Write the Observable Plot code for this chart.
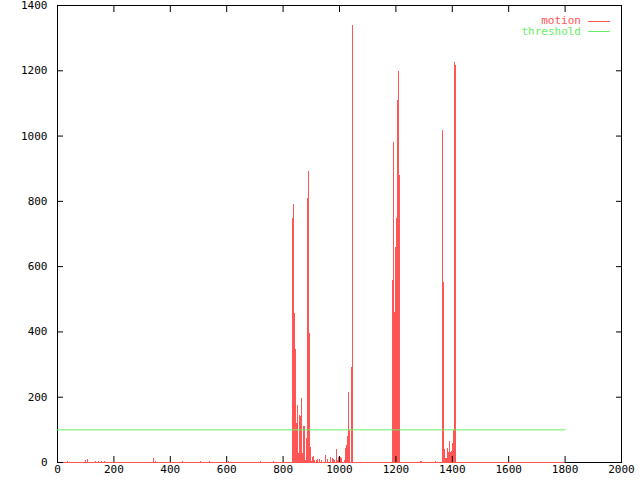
<!DOCTYPE html>
<html><head><meta charset="utf-8">
<script src="https://cdn.jsdelivr.net/npm/d3@7"></script>
<script src="https://cdn.jsdelivr.net/npm/@observablehq/plot@0.6"></script>
<style>
body{margin:0;background:#fff;}
#wrap{position:relative;width:640px;height:480px;}
#wrap svg{display:block;}
#legend{position:absolute;top:16px;right:30px;font-family:"DejaVu Sans Mono",monospace;font-size:11px;line-height:10.6px;}
.row{display:flex;justify-content:flex-end;align-items:center;height:10.6px;line-height:10.6px;white-space:pre;}
.row span.line{display:inline-block;width:22px;height:0;border-top:1px solid;margin-left:7px;}
</style></head><body>
<div id="wrap"><div id="legend"></div></div>
<script>
// motion impulses (frame, value)
const motionFrames = [35, 99, 107, 135, 146, 156, 167, 341, 348, 444, 508, 540, 608, 721, 767,
  833, 837, 840, 844, 848, 851, 855, 858, 862, 865, 869, 872, 876, 879, 883, 887, 890, 894, 897,
  901, 904, 908, 911, 918, 922, 929, 936, 950, 957, 968, 975, 979, 982, 989, 993, 996, 1004, 1007,
  1018, 1021, 1025, 1028, 1032, 1035, 1041, 1045,
  1188, 1191, 1195, 1199, 1202, 1206, 1209, 1213,
  1287, 1290, 1339,
  1365, 1369, 1372, 1376, 1379, 1383, 1386, 1390, 1394, 1397, 1401, 1404, 1408, 1411];
const motionValues = [3, 5, 8, 4, 4, 4, 4, 12, 4, 2, 2, 2, 3, 2, 2,
  747, 790, 456, 346, 119, 175, 27, 144, 140, 196, 28, 110, 111, 6, 73, 808, 890, 395, 46,
  3, 15, 18, 6, 6, 8, 8, 5, 21, 10, 14, 11, 9, 7, 40, 6, 15, 15, 11,
  6, 43, 52, 80, 215, 98, 290, 1339,
  557, 980, 460, 659, 747, 1110, 1197, 879,
  3, 3, 3,
  1017, 551, 40, 12, 12, 43, 31, 64, 31, 35, 58, 98, 1226, 1216];
const motionSpan = [0, 1800];
const thresholdFrames = [0, 1800];
const thresholdValue = 100;
const xTicks = [0, 200, 400, 600, 800, 1000, 1200, 1400, 1600, 1800, 2000];
const yTicks = [0, 200, 400, 600, 800, 1000, 1200, 1400];
const seriesNames = ["motion", "threshold"];
const motionColor = "#ff5555";
const thresholdColor = "#66ee66";

const motion = motionFrames.map((f, i) => ({frame: f, value: motionValues[i]}));
const threshold = thresholdFrames.map(f => ({frame: f, value: thresholdValue}));

const chart = Plot.plot({
  width: 640, height: 480,
  marginLeft: 57, marginRight: 19, marginTop: 5, marginBottom: 18,
  style: {fontFamily: "'DejaVu Sans Mono', monospace", fontSize: "11px", background: "#fff", color: "#000", overflow: "visible"},
  x: {domain: [0, 2000]},
  y: {domain: [0, 1400]},
  marks: [
    Plot.frame({stroke: "#000"}),
    Plot.ruleX(motion, {x: "frame", y1: 0, y2: "value", stroke: motionColor, strokeWidth: 1, shapeRendering: "crispEdges"}),
    Plot.ruleY([0], {x1: motionSpan[0], x2: motionSpan[1], stroke: motionColor}),
    Plot.line(threshold, {x: "frame", y: "value", stroke: thresholdColor, strokeWidth: 1}),
    Plot.axisX(xTicks, {anchor: "bottom", tickSize: -6, tickPadding: 9, label: null, tickFormat: d => String(d)}),
    Plot.axisX(xTicks, {anchor: "top", tickSize: -6, tickFormat: () => "", label: null}),
    Plot.axisY(yTicks, {anchor: "left", tickSize: -6, tickPadding: 16, label: null, tickFormat: d => String(d)}),
    Plot.axisY(yTicks, {anchor: "right", tickSize: -6, tickFormat: () => "", label: null})
  ]
});
document.getElementById("wrap").prepend(chart);

const legend = document.getElementById("legend");
[[seriesNames[0], motionColor], [seriesNames[1], thresholdColor]].forEach(([name, color]) => {
  const row = document.createElement("div");
  row.className = "row";
  row.style.color = color;
  const t = document.createElement("span");
  t.textContent = name;
  const l = document.createElement("span");
  l.className = "line";
  l.style.borderTopColor = color;
  row.append(t, l);
  legend.append(row);
});
</script>
</body></html>
